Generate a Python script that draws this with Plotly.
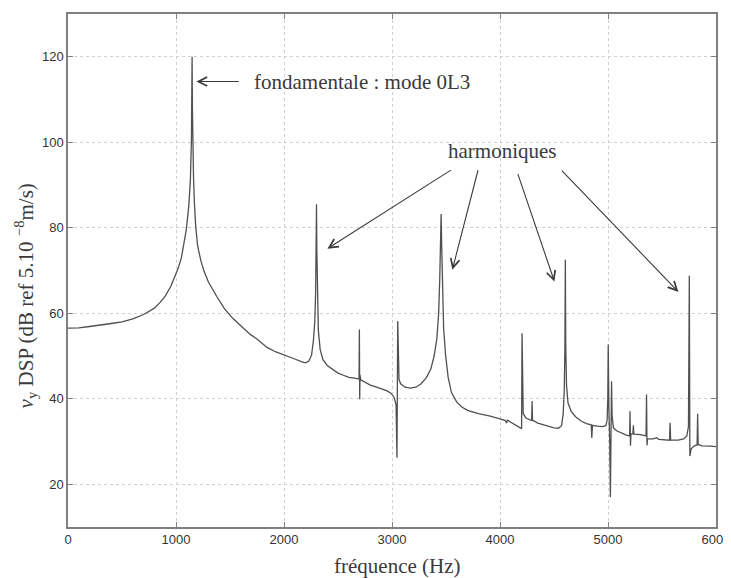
import plotly.graph_objects as go

# Spectrum (Hz, dB)
freq_hz = [
    0, 100, 200, 300, 400, 500, 600, 700, 800, 855, 900, 950, 980, 1020, 1050,
    1071, 1095, 1118, 1133, 1143, 1147, 1149, 1152, 1156, 1162, 1170, 1182,
    1200, 1230, 1260, 1300, 1380, 1450, 1530, 1600, 1690, 1750, 1843, 1920,
    2000, 2100, 2160, 2200, 2230, 2255, 2272, 2285, 2293, 2298, 2301, 2304,
    2309, 2318, 2335, 2360, 2400, 2450, 2500, 2550, 2600, 2650, 2695, 2698,
    2701, 2704, 2710, 2750, 2800, 2850, 2900, 2950, 2990, 3020, 3038, 3046,
    3053, 3058, 3065, 3080, 3120, 3170, 3220, 3270, 3320, 3360, 3390, 3415,
    3432, 3442, 3450, 3455, 3460, 3467, 3478, 3495, 3520, 3550, 3600, 3650,
    3700, 3800, 3900, 4000, 4050, 4060, 4070, 4100, 4150, 4190, 4200, 4204,
    4208, 4215, 4240, 4280, 4293, 4297, 4301, 4350, 4400, 4450, 4500, 4540,
    4570, 4585, 4595, 4601, 4605, 4609, 4616, 4630, 4660, 4700, 4750, 4800,
    4845, 4850, 4856, 4900, 4950, 4980, 4992, 4998, 5002, 5008, 5016, 5022,
    5028, 5033, 5038, 5050, 5080, 5120, 5170, 5200, 5204, 5208, 5213, 5230,
    5235, 5240, 5300, 5352, 5357, 5361, 5366, 5420, 5450, 5470, 5520, 5570,
    5575, 5580, 5650, 5700, 5730, 5745, 5753, 5758, 5770, 5800, 5825, 5830,
    5835, 5870, 5950, 6000,
]
dsp_db = [
    56.5, 56.6, 56.9, 57.2, 57.6, 58.0, 58.7, 59.7, 61.2, 62.6, 64.0, 66.2, 67.9, 70.5, 73.0,
    75.7, 79.5, 85.0, 91.0, 100.6, 110.0, 120.0, 108.0, 100.0, 92.0, 86.0, 80.5,
    75.8, 72.3, 69.8, 67.3, 63.8, 61.0, 58.7, 57.0, 55.0, 54.0, 52.0, 51.0,
    50.3, 49.3, 48.7, 48.4, 48.8, 50.2, 53.5, 58.0, 65.0, 75.0, 85.5, 75.0,
    63.0, 56.0, 51.5, 49.2, 47.8, 46.8, 46.0, 45.5, 45.0, 44.8, 44.6, 56.2,
    39.9, 45.6, 44.4, 43.8, 43.2, 42.8, 42.3, 41.9, 41.3, 40.3, 38.5, 26.2,
    58.2, 47.5, 44.5, 43.5, 42.7, 42.5, 42.7, 43.5, 45.0, 47.0, 50.0, 54.0,
    60.0, 68.0, 77.0, 83.2, 76.0, 66.0, 56.5, 50.5, 45.0, 41.5, 39.2, 38.0,
    37.3, 36.5, 36.0, 35.3, 34.9, 34.3, 35.0, 34.5, 33.8, 33.2, 33.0, 55.3,
    38.5, 36.5, 35.5, 35.0, 34.9, 39.5, 35.0, 34.3, 33.9, 33.5, 33.2, 33.1,
    33.7, 36.5, 42.0, 52.0, 72.5, 52.0, 43.0, 39.0, 37.0, 35.8, 34.8, 34.2,
    33.9, 30.8, 33.8, 33.6, 33.5, 33.7, 35.0, 40.0, 52.7, 38.0, 30.0, 17.0,
    30.0, 44.1, 36.0, 33.2, 32.5, 32.0, 31.5, 31.3, 37.1, 29.0, 31.8, 31.8,
    33.8, 31.7, 31.6, 31.3, 41.0, 29.1, 30.6, 30.6, 30.9, 30.5, 30.4, 30.3,
    34.4, 30.3, 30.3, 30.6, 31.3, 33.5, 68.8, 26.6, 28.3, 29.0, 29.2, 36.5,
    29.3, 29.0, 28.9, 28.8,
]

x_ticks = [0, 1000, 2000, 3000, 4000, 5000, 6000]
y_ticks = [20, 40, 60, 80, 100, 120]

# annotation anchor points (data units)
fund_label = "fondamentale : mode 0L3"
fund_text_pos = (1707, 114.2)
fund_arrow = (1188, 114.2, 1596, 114.2)  # head x, head y, tail x, tail y

harm_label = "harmoniques"
harm_text_pos = (4022, 98.0)
harm_arrows = [
    (2402, 75.1, 3559, 93.7),
    (3559, 70.2, 3800, 93.8),
    (4504, 67.4, 4161, 92.9),
    (5652, 65.0, 4559, 93.7),
]

serif = "Liberation Serif, Times New Roman, serif"
sans = "Liberation Sans, Arial, sans-serif"
ink = "#3a3a3a"

fig = go.Figure()
fig.add_trace(go.Scatter(
    x=freq_hz, y=dsp_db, mode="lines",
    line=dict(color="#505050", width=1.3),
    hoverinfo="skip", showlegend=False,
))

axis_common = dict(
    showline=True, linecolor="#808080", linewidth=1.5, mirror="ticks",
    ticks="inside", ticklen=5, tickcolor="#808080", tickwidth=1,
    showgrid=True, gridcolor="#d0d0d0", gridwidth=1, griddash="dot",
    zeroline=False, ticklabeloverflow="allow", automargin=False,
    tickfont=dict(family=sans, size=13, color="#333333"),
)

fig.update_xaxes(range=[0, 6000], tickvals=x_ticks,
                 ticktext=[str(v) for v in x_ticks], **axis_common)
fig.update_yaxes(range=[10, 130], tickvals=y_ticks,
                 ticktext=[str(v) for v in y_ticks], **axis_common)

annotations = []
annotations.append(dict(
    x=fund_text_pos[0], y=fund_text_pos[1], xref="x", yref="y",
    text=fund_label, showarrow=False, xanchor="left", yanchor="middle",
    font=dict(family=serif, size=21, color=ink),
))
hx, hy, tx, ty = fund_arrow
annotations.append(dict(
    x=hx, y=hy, ax=tx, ay=ty, xref="x", yref="y", axref="x", ayref="y",
    text="", showarrow=True, arrowhead=5, arrowsize=1.6, arrowwidth=1.1,
    arrowcolor=ink, standoff=0, startstandoff=0,
))
annotations.append(dict(
    x=harm_text_pos[0], y=harm_text_pos[1], xref="x", yref="y",
    text=harm_label, showarrow=False, xanchor="center", yanchor="middle",
    font=dict(family=serif, size=21, color=ink),
))
for hx, hy, tx, ty in harm_arrows:
    annotations.append(dict(
        x=hx, y=hy, ax=tx, ay=ty, xref="x", yref="y", axref="x", ayref="y",
        text="", showarrow=True, arrowhead=5, arrowsize=1.6, arrowwidth=1.1,
        arrowcolor=ink, standoff=0, startstandoff=0,
    ))

# axis titles
annotations.append(dict(
    x=0.508, y=-0.076, xref="paper", yref="paper",
    text="fréquence (Hz)", showarrow=False, xanchor="center", yanchor="middle",
    font=dict(family=serif, size=21, color=ink),
))
annotations.append(dict(
    x=-0.066, y=0.45, xref="paper", yref="paper", textangle=-90,
    text="<i>v</i><sub>y</sub> DSP (dB ref 5.10 <sup>−8</sup>m/s)",
    showarrow=False, xanchor="center", yanchor="middle",
    font=dict(family=serif, size=21, color=ink),
))

# the page has an 8px body margin, so the figure origin sits 8px in
fig.update_layout(
    width=723, height=570,
    margin=dict(l=60, r=15, t=6, b=51),
    paper_bgcolor="white", plot_bgcolor="white",
    annotations=annotations,
)

fig.write_html("out.html")
